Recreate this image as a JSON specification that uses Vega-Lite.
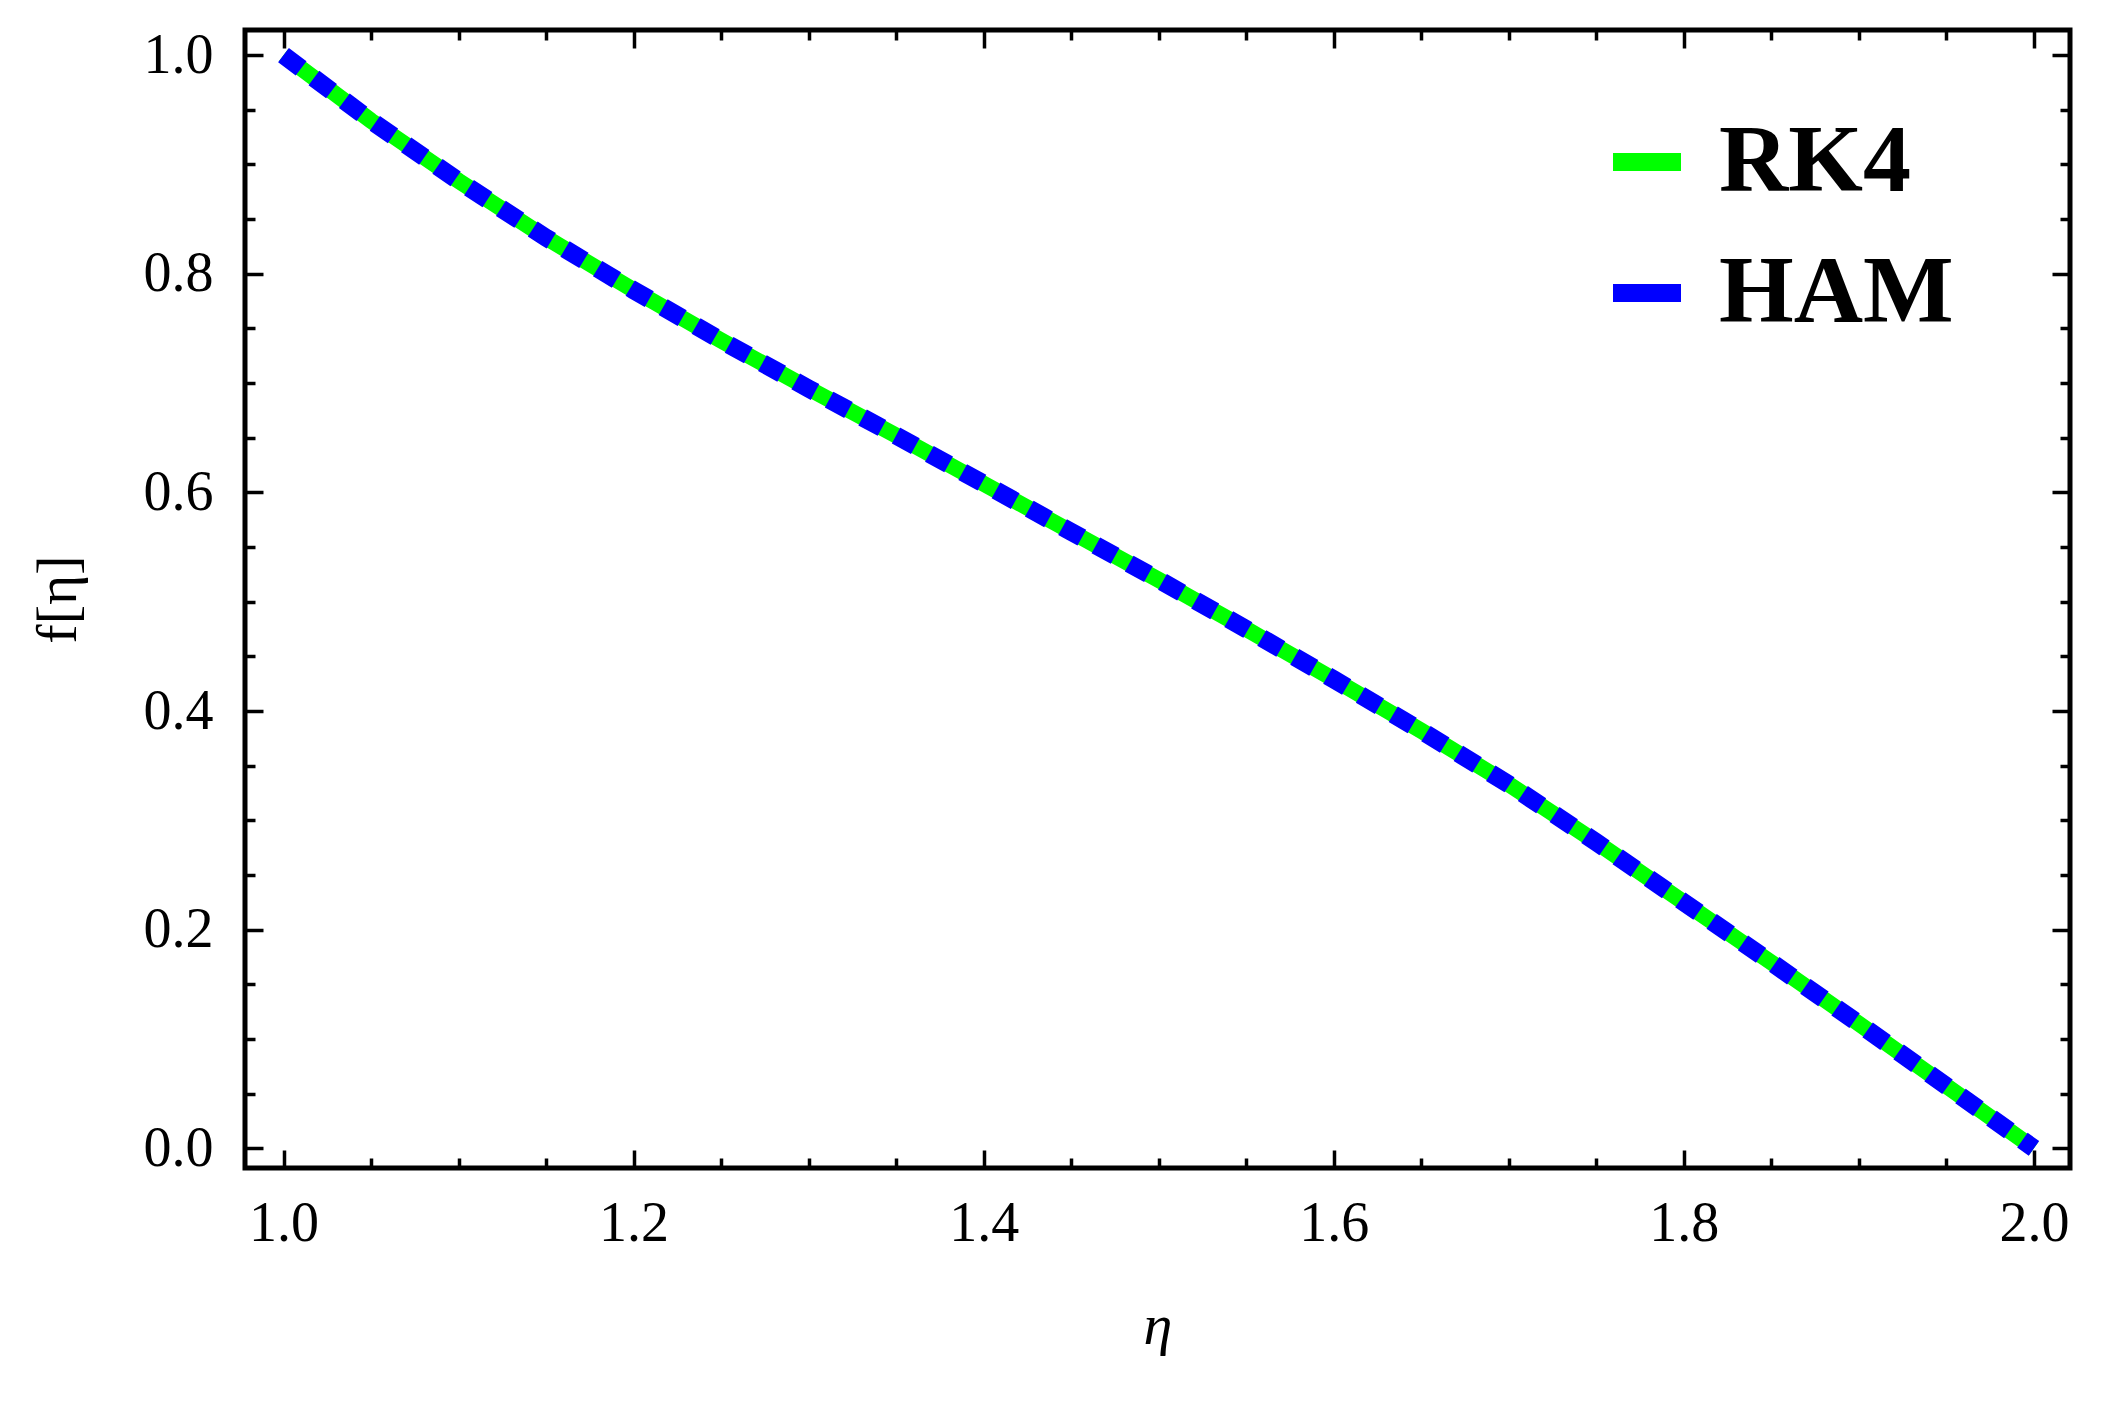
{
  "$schema": "https://vega.github.io/schema/vega-lite/v6.json",
  "autosize": {"type": "none"},
  "width": 1825,
  "height": 1138,
  "padding": {"left": 245, "top": 30, "right": 33, "bottom": 251},
  "background": "white",
  "config": {
    "view": {"stroke": "black", "strokeWidth": 5},
    "axis": {"grid": false, "domain": false, "labelFont": "Liberation Serif", "titleFont": "Liberation Serif", "labelColor": "black", "titleColor": "black", "tickColor": "black", "tickWidth": 3.5, "labelFontSize": 56, "titleFontSize": 58, "titleFontWeight": "normal"}
  },
  "datasets": {
    "rk4": [
      {"eta": 1.00, "f": 1.000}, {"eta": 1.05, "f": 0.940}, {"eta": 1.10, "f": 0.885}, {"eta": 1.15, "f": 0.833},
      {"eta": 1.20, "f": 0.785}, {"eta": 1.25, "f": 0.739}, {"eta": 1.30, "f": 0.695}, {"eta": 1.35, "f": 0.652},
      {"eta": 1.40, "f": 0.608}, {"eta": 1.45, "f": 0.564}, {"eta": 1.50, "f": 0.520}, {"eta": 1.55, "f": 0.475},
      {"eta": 1.60, "f": 0.429}, {"eta": 1.65, "f": 0.382}, {"eta": 1.70, "f": 0.333}, {"eta": 1.75, "f": 0.280},
      {"eta": 1.80, "f": 0.225}, {"eta": 1.85, "f": 0.170}, {"eta": 1.90, "f": 0.114}, {"eta": 1.95, "f": 0.057},
      {"eta": 2.00, "f": 0.000}
    ],
    "ham": [
      {"eta": 1.00, "f": 1.000}, {"eta": 1.05, "f": 0.940}, {"eta": 1.10, "f": 0.885}, {"eta": 1.15, "f": 0.833},
      {"eta": 1.20, "f": 0.785}, {"eta": 1.25, "f": 0.739}, {"eta": 1.30, "f": 0.695}, {"eta": 1.35, "f": 0.652},
      {"eta": 1.40, "f": 0.608}, {"eta": 1.45, "f": 0.564}, {"eta": 1.50, "f": 0.520}, {"eta": 1.55, "f": 0.475},
      {"eta": 1.60, "f": 0.429}, {"eta": 1.65, "f": 0.382}, {"eta": 1.70, "f": 0.333}, {"eta": 1.75, "f": 0.280},
      {"eta": 1.80, "f": 0.225}, {"eta": 1.85, "f": 0.170}, {"eta": 1.90, "f": 0.114}, {"eta": 1.95, "f": 0.057},
      {"eta": 2.00, "f": 0.000}
    ]
  },
  "layer": [
    {
      "data": {"name": "rk4"},
      "mark": {"type": "line", "strokeWidth": 16, "clip": true},
      "encoding": {
        "x": {"field": "eta", "type": "quantitative",
          "scale": {"domain": [0.978, 2.0206], "nice": false, "zero": false},
          "axis": {"orient": "bottom", "title": "η", "titleFontStyle": "italic", "titlePadding": 46,
            "values": [1.0,1.05,1.1,1.15,1.2,1.25,1.3,1.35,1.4,1.45,1.5,1.55,1.6,1.65,1.7,1.75,1.8,1.85,1.9,1.95,2.0],
            "labelExpr": "abs(datum.value*5 - round(datum.value*5)) < 0.001 ? format(datum.value, '.1f') : ''",
            "tickSize": {"condition": {"test": "abs(datum.value*5 - round(datum.value*5)) < 0.001", "value": -18}, "value": -10},
            "labelPadding": 46}},
        "y": {"field": "f", "type": "quantitative",
          "scale": {"domain": [-0.018, 1.023], "nice": false, "zero": false},
          "axis": {"orient": "left", "title": "f[η]", "titlePadding": 56,
            "values": [0,0.05,0.1,0.15,0.2,0.25,0.3,0.35,0.4,0.45,0.5,0.55,0.6,0.65,0.7,0.75,0.8,0.85,0.9,0.95,1.0],
            "labelExpr": "abs(datum.value*5 - round(datum.value*5)) < 0.001 ? format(datum.value, '.1f') : ''",
            "tickSize": {"condition": {"test": "abs(datum.value*5 - round(datum.value*5)) < 0.001", "value": -18}, "value": -10},
            "labelPadding": 50}},
        "color": {"datum": "RK4", "type": "nominal",
          "scale": {"domain": ["RK4", "HAM"], "range": ["#00ff00", "#0000ff"]},
          "legend": {"title": null, "orient": "none", "legendX": 1354, "legendY": 84,
            "symbolType": "stroke", "symbolSize": 4624, "symbolStrokeWidth": 18,
            "labelFont": "Liberation Serif", "labelFontWeight": "bold", "labelFontSize": 96, "labelColor": "black",
            "labelLimit": 0, "labelOffset": 24, "rowPadding": 35}}
      }
    },
    {
      "data": {"name": "ham"},
      "mark": {"type": "line", "strokeWidth": 18, "strokeDash": [22, 16], "strokeCap": "butt", "clip": true},
      "encoding": {
        "x": {"field": "eta", "type": "quantitative",
          "axis": {"orient": "top", "title": null, "labels": false,
            "values": [1.0,1.05,1.1,1.15,1.2,1.25,1.3,1.35,1.4,1.45,1.5,1.55,1.6,1.65,1.7,1.75,1.8,1.85,1.9,1.95,2.0],
            "tickSize": {"condition": {"test": "abs(datum.value*5 - round(datum.value*5)) < 0.001", "value": -18}, "value": -10}}},
        "y": {"field": "f", "type": "quantitative",
          "axis": {"orient": "right", "title": null, "labels": false,
            "values": [0,0.05,0.1,0.15,0.2,0.25,0.3,0.35,0.4,0.45,0.5,0.55,0.6,0.65,0.7,0.75,0.8,0.85,0.9,0.95,1.0],
            "tickSize": {"condition": {"test": "abs(datum.value*5 - round(datum.value*5)) < 0.001", "value": -18}, "value": -10}}},
        "color": {"datum": "HAM", "type": "nominal"}
      }
    }
  ],
  "resolve": {"axis": {"x": "independent", "y": "independent"}}
}
